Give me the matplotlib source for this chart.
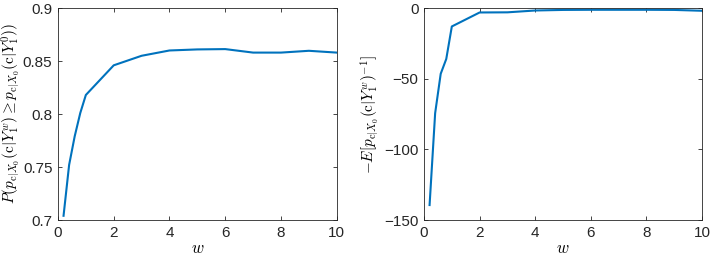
import numpy as np
import matplotlib
matplotlib.use('Agg')
import matplotlib.pyplot as plt

plt.rcParams['font.family'] = ['Liberation Sans', 'DejaVu Sans']
plt.rcParams['mathtext.fontset'] = 'cm'

# weight values
w = [0.2, 0.4, 0.6, 0.8, 1, 2, 3, 4, 5, 6, 7, 8, 9, 10]
# left: probability that tilted posterior beats untilted one
prob = [0.704, 0.752, 0.779, 0.801, 0.818, 0.846, 0.855, 0.860,
        0.861, 0.8613, 0.858, 0.858, 0.8597, 0.858]
# right: negative expected inverse posterior
neg_inv = [-139.4, -74.4, -46.5, -36.0, -13.0, -3.1, -3.0, -1.7,
           -1.3, -1.2, -1.2, -1.2, -1.3, -1.9]

LINE = '#0072BD'
EDGE = '#262626'

fig = plt.figure(figsize=(7.13, 2.61), dpi=100)
ax1 = fig.add_axes([0.0813, 0.157, 0.391, 0.812])
ax2 = fig.add_axes([0.5947, 0.157, 0.390, 0.812])

def style(ax):
    ax.tick_params(direction='in', length=3, width=0.6, labelsize=11,
                   colors=EDGE, top=True, right=True, pad=4)
    for s in ax.spines.values():
        s.set_color(EDGE)
        s.set_linewidth(0.6)
    ax.set_xlim(0, 10)
    ax.set_xticks([0, 2, 4, 6, 8, 10])
    ax.set_xlabel('$w$', fontsize=12, labelpad=1)

ax1.plot(w, prob, color=LINE, lw=1.5)
style(ax1)
ax1.set_ylim(0.7, 0.9)
ax1.set_yticks([0.7, 0.75, 0.8, 0.85, 0.9])
ax1.set_yticklabels(['0.7', '0.75', '0.8', '0.85', '0.9'])
ax1.set_ylabel(r'$P(p_{\mathrm{c}|X_0}(\mathrm{c}|Y_1^w) \geq p_{\mathrm{c}|X_0}(\mathrm{c}|Y_1^0))$',
               fontsize=11)
ax1.yaxis.set_label_coords(-0.13, 0.5)

ax2.plot(w, neg_inv, color=LINE, lw=1.5)
style(ax2)
ax2.set_ylim(-150, 0)
ax2.set_yticks([-150, -100, -50, 0])
ax2.set_ylabel(r'$-E[p_{\mathrm{c}|X_0}(\mathrm{c}|Y_1^w)^{-1}]$', fontsize=11)
ax2.yaxis.set_label_coords(-0.155, 0.5)

fig.savefig('out.png', dpi=100)
